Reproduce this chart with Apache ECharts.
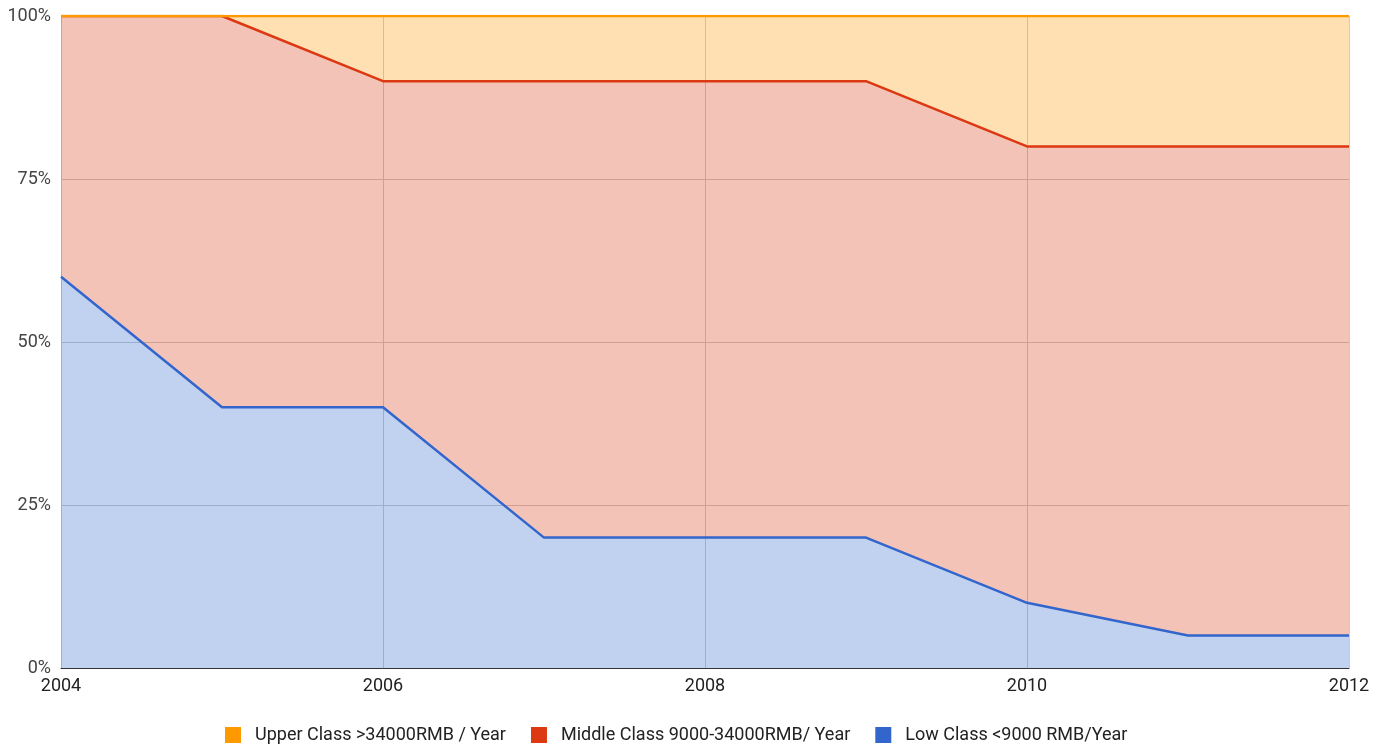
<!DOCTYPE html>
<html>
<head>
<meta charset="utf-8">
<script src="https://cdn.jsdelivr.net/npm/echarts@6/dist/echarts.min.js"></script>
<style>
  html, body { margin: 0; padding: 0; background: #fff; }
  #chart { width: 1385px; height: 747px; }
</style>
</head>
<body>
<div id="chart"></div>
<script>
const years = ['2004', '2005', '2006', '2007', '2008', '2009', '2010', '2011', '2012']
// shares in percent, stacked bottom-up
const lowClass = [60, 40, 40, 20, 20, 20, 10, 5, 5]
const middleClass = [40, 60, 50, 70, 70, 70, 70, 75, 75]
const upperClass = [0, 0, 10, 10, 10, 10, 20, 20, 20]
const yTicks = [0, 25, 50, 75, 100]

const names = {
  upper: 'Upper Class >34000RMB / Year',
  middle: 'Middle Class 9000-34000RMB/ Year',
  low: 'Low Class <9000 RMB/Year'
}

const makeSeries = (name, vals, color) => ({
  name,
  type: 'line',
  stack: 'share',
  data: vals,
  symbol: 'none',
  color,
  lineStyle: { width: 2.5, color },
  areaStyle: { color, opacity: 0.3 },
  emphasis: { disabled: true }
})

const myChart = echarts.init(document.getElementById('chart'))
myChart.setOption({
  animation: false,
  textStyle: { fontFamily: 'Roboto' },
  grid: { left: 61, right: 36, top: 16, bottom: 79 },
  legend: {
    top: 721,
    left: 220,
    itemWidth: 16,
    itemHeight: 16,
    itemGap: 25,
    icon: 'rect',
    textStyle: { fontSize: 18, color: '#222', fontFamily: 'Roboto', padding: [0, 0, 0, 9] },
    data: [names.upper, names.middle, names.low]
  },
  xAxis: {
    type: 'category',
    data: years,
    boundaryGap: false,
    axisLine: { show: true, lineStyle: { color: '#333', width: 1 } },
    axisTick: { show: false },
    axisLabel: { color: '#222', fontSize: 18, margin: 9, interval: 1 },
    splitLine: { show: true, interval: 1, lineStyle: { color: '#ccc', width: 1 } }
  },
  yAxis: {
    type: 'value',
    min: yTicks[0],
    max: yTicks[yTicks.length - 1],
    interval: 25,
    axisLine: { show: false },
    axisTick: { show: false },
    axisLabel: { color: '#444', fontSize: 18, margin: 10, formatter: v => v + '%' },
    splitLine: { show: true, lineStyle: { color: '#ccc', width: 1 } }
  },
  series: [
    makeSeries(names.low, lowClass, '#3366cc'),
    makeSeries(names.middle, middleClass, '#dc3912'),
    makeSeries(names.upper, upperClass, '#ff9900')
  ]
})
</script>
</body>
</html>
